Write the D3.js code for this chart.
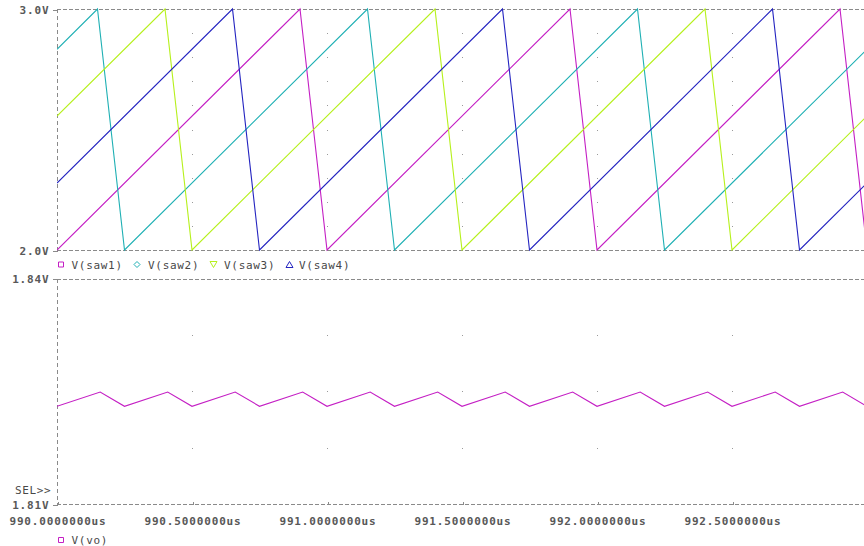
<!DOCTYPE html>
<html>
<head>
<meta charset="utf-8">
<script src="https://cdn.jsdelivr.net/npm/d3@7"></script>
<style>
  html, body { margin: 0; padding: 0; background: #fff; }
  svg { display: block; }
  text { font-family: "DejaVu Sans Mono", "Liberation Mono", monospace; }
</style>
</head>
<body>
<svg id="chart" width="864" height="546"></svg>
<script>
// ---------------- data ----------------
const timeTicks = [990.0, 990.5, 991.0, 991.5, 992.0, 992.5];
const timeTickLabels = ["990.0000000us", "990.5000000us", "991.0000000us",
                        "991.5000000us", "992.0000000us", "992.5000000us"];
const topTicks = [2.0, 3.0];
const topTickLabels = ["2.0V", "3.0V"];
const botTicks = [1.81, 1.84];
const botTickLabels = ["1.81V", "1.84V"];

// sawtooth vertices [time us, volts]
const saw1 = [[990.00, 2.0], [990.90, 3.0], [991.00, 2.0], [991.90, 3.0], [992.00, 2.0],
              [992.90, 3.0], [993.00, 2.0]];
const saw2 = [[990.00, 2.833], [990.15, 3.0], [990.25, 2.0], [991.15, 3.0], [991.25, 2.0],
              [992.15, 3.0], [992.25, 2.0], [993.00, 2.833]];
const saw3 = [[990.00, 2.556], [990.40, 3.0], [990.50, 2.0], [991.40, 3.0], [991.50, 2.0],
              [992.40, 3.0], [992.50, 2.0], [993.00, 2.556]];
const saw4 = [[990.00, 2.278], [990.65, 3.0], [990.75, 2.0], [991.65, 3.0], [991.75, 2.0],
              [992.65, 3.0], [992.75, 2.0], [993.00, 2.278]];
const vo = [[990.00, 1.8230], [990.16, 1.8249], [990.25, 1.8230], [990.41, 1.8249],
            [990.50, 1.8230], [990.66, 1.8249], [990.75, 1.8230], [990.91, 1.8249],
            [991.00, 1.8230], [991.16, 1.8249], [991.25, 1.8230], [991.41, 1.8249],
            [991.50, 1.8230], [991.66, 1.8249], [991.75, 1.8230], [991.91, 1.8249],
            [992.00, 1.8230], [992.16, 1.8249], [992.25, 1.8230], [992.41, 1.8249],
            [992.50, 1.8230], [992.66, 1.8249], [992.75, 1.8230], [992.91, 1.8249],
            [993.00, 1.8230]];
const topGridV = [2.1, 2.2, 2.3, 2.4, 2.5, 2.6, 2.7, 2.8, 2.9];
const botGridV = [1.8175, 1.825, 1.8325];
const gridT = [990.5, 991.0, 991.5, 992.0, 992.5];

const seriesTop = [
  {name: "V(saw1)", data: saw1, color: "#c41fc4", sym: "square"},
  {name: "V(saw2)", data: saw2, color: "#1fb0b4", sym: "diamond"},
  {name: "V(saw3)", data: saw3, color: "#b6f01c", sym: "tridown"},
  {name: "V(saw4)", data: saw4, color: "#2424c0", sym: "triup"}
];

// ---------------- layout ----------------
const svg = d3.select("#chart");
const W = 864;
const x = d3.scaleLinear().domain([990, 993]).range([57, 867]);
const yTop = d3.scaleLinear().domain([2.0, 3.0]).range([250, 9]);
const yBot = d3.scaleLinear().domain([1.81, 1.84]).range([504, 278.5]);
const gridColor = "#8a8a8a";
const labelColor = "#585858";

svg.append("rect").attr("width", 864).attr("height", 546).attr("fill", "#fff");

svg.append("defs").append("clipPath").attr("id", "clipTop")
  .append("rect").attr("x", 57).attr("y", 0).attr("width", W - 57).attr("height", 260);
svg.select("defs").append("clipPath").attr("id", "clipBot")
  .append("rect").attr("x", 57).attr("y", 270).attr("width", W - 57).attr("height", 240);

function frame(y, top, bottom) {
  const g = svg.append("g").attr("shape-rendering", "crispEdges");
  [top, bottom].forEach(v => {
    g.append("line").attr("x1", 57).attr("x2", W)
      .attr("y1", Math.round(y(v)) + 0.5).attr("y2", Math.round(y(v)) + 0.5)
      .attr("stroke", gridColor).attr("stroke-dasharray", "4,2");
  });
  g.append("line").attr("x1", 57.5).attr("x2", 57.5)
    .attr("y1", y(top)).attr("y2", y(bottom))
    .attr("stroke", gridColor).attr("stroke-dasharray", "4,3");
}
frame(yTop, 3.0, 2.0);
frame(yBot, 1.84, 1.81);

// grid dots
const dots = svg.append("g").attr("fill", "#9a9a9a").attr("shape-rendering", "crispEdges");
gridT.forEach(t => {
  topGridV.forEach(v => dots.append("rect").attr("x", Math.round(x(t))).attr("y", Math.round(yTop(v))).attr("width", 1).attr("height", 1));
  botGridV.forEach(v => dots.append("rect").attr("x", Math.round(x(t))).attr("y", Math.round(yBot(v))).attr("width", 1).attr("height", 1));
});

// left axes
function leftAxis(y, ticks, labels) {
  const g = svg.append("g").attr("transform", "translate(57.5,0.5)")
    .call(d3.axisLeft(y).tickValues(ticks).tickSize(5).tickPadding(3)
      .tickFormat((d, i) => labels[i]));
  g.select(".domain").remove();
  g.selectAll(".tick line").attr("stroke", gridColor).attr("shape-rendering", "crispEdges");
  g.selectAll(".tick text").attr("font-family", "DejaVu Sans Mono, monospace")
    .attr("font-size", 11).attr("font-weight", "bold").attr("fill", labelColor)
    .attr("letter-spacing", "0.85px").attr("dy", "0.36em");
}
leftAxis(yTop, topTicks, topTickLabels);
leftAxis(yBot, botTicks, botTickLabels);

// bottom axis
const xa = svg.append("g").attr("transform", "translate(0.5," + (Math.round(yBot(1.81)) + 0.5) + ")")
  .call(d3.axisBottom(x).tickValues(timeTicks).tickSize(-3).tickPadding(0)
    .tickFormat((d, i) => timeTickLabels[i]));
xa.select(".domain").remove();
xa.selectAll(".tick line").attr("stroke", gridColor).attr("shape-rendering", "crispEdges");
xa.selectAll(".tick text").attr("font-family", "DejaVu Sans Mono, monospace")
  .attr("font-size", 11).attr("font-weight", "bold").attr("fill", labelColor)
  .attr("letter-spacing", "0.85px").attr("dy", 0).attr("y", 20);

// lines
const lineTop = d3.line().x(d => x(d[0])).y(d => yTop(d[1]));
const lineBot = d3.line().x(d => x(d[0])).y(d => yBot(d[1]));
const gTop = svg.append("g").attr("clip-path", "url(#clipTop)");
seriesTop.forEach(s => {
  gTop.append("path").datum(s.data).attr("d", lineTop)
    .attr("fill", "none").attr("stroke", s.color).attr("stroke-width", 1.1);
});
svg.append("g").attr("clip-path", "url(#clipBot)")
  .append("path").datum(vo).attr("d", lineBot)
  .attr("fill", "none").attr("stroke", "#c41fc4").attr("stroke-width", 1.1);

// legend symbols
function symbol(g, type, cx, cy, color) {
  let p;
  if (type === "square") p = `M${cx-2.5},${cy-2.5}h5v5h-5z`;
  else if (type === "diamond") p = `M${cx},${cy-3}L${cx+3},${cy}L${cx},${cy+3}L${cx-3},${cy}Z`;
  else if (type === "tridown") p = `M${cx-3.5},${cy-3}L${cx+3.5},${cy-3}L${cx},${cy+3}Z`;
  else p = `M${cx-3.5},${cy+3}L${cx+3.5},${cy+3}L${cx},${cy-3}Z`;
  g.append("path").attr("d", p).attr("fill", "none").attr("stroke", color).attr("stroke-width", 1);
}
const legX = [61, 137, 213.5, 289.5];
const legTextX = [71.5, 148, 224, 299];
const leg = svg.append("g");
seriesTop.forEach((s, i) => {
  symbol(leg, s.sym, legX[i], 264.5, s.color);
  leg.append("text").attr("x", legTextX[i]).attr("y", 268.5)
    .attr("font-size", 11).attr("fill", "#484848").attr("letter-spacing", "0.7px")
    .text(s.name);
});
symbol(leg, "square", 61, 540, "#c41fc4");
leg.append("text").attr("x", 71.5).attr("y", 544)
  .attr("font-size", 11).attr("fill", "#484848").attr("letter-spacing", "0.7px").text("V(vo)");

// SEL>> marker
svg.append("text").attr("x", 15).attr("y", 494)
  .attr("font-size", 11).attr("fill", "#484848").attr("letter-spacing", "0.6px").text("SEL>>");
</script>
</body>
</html>
